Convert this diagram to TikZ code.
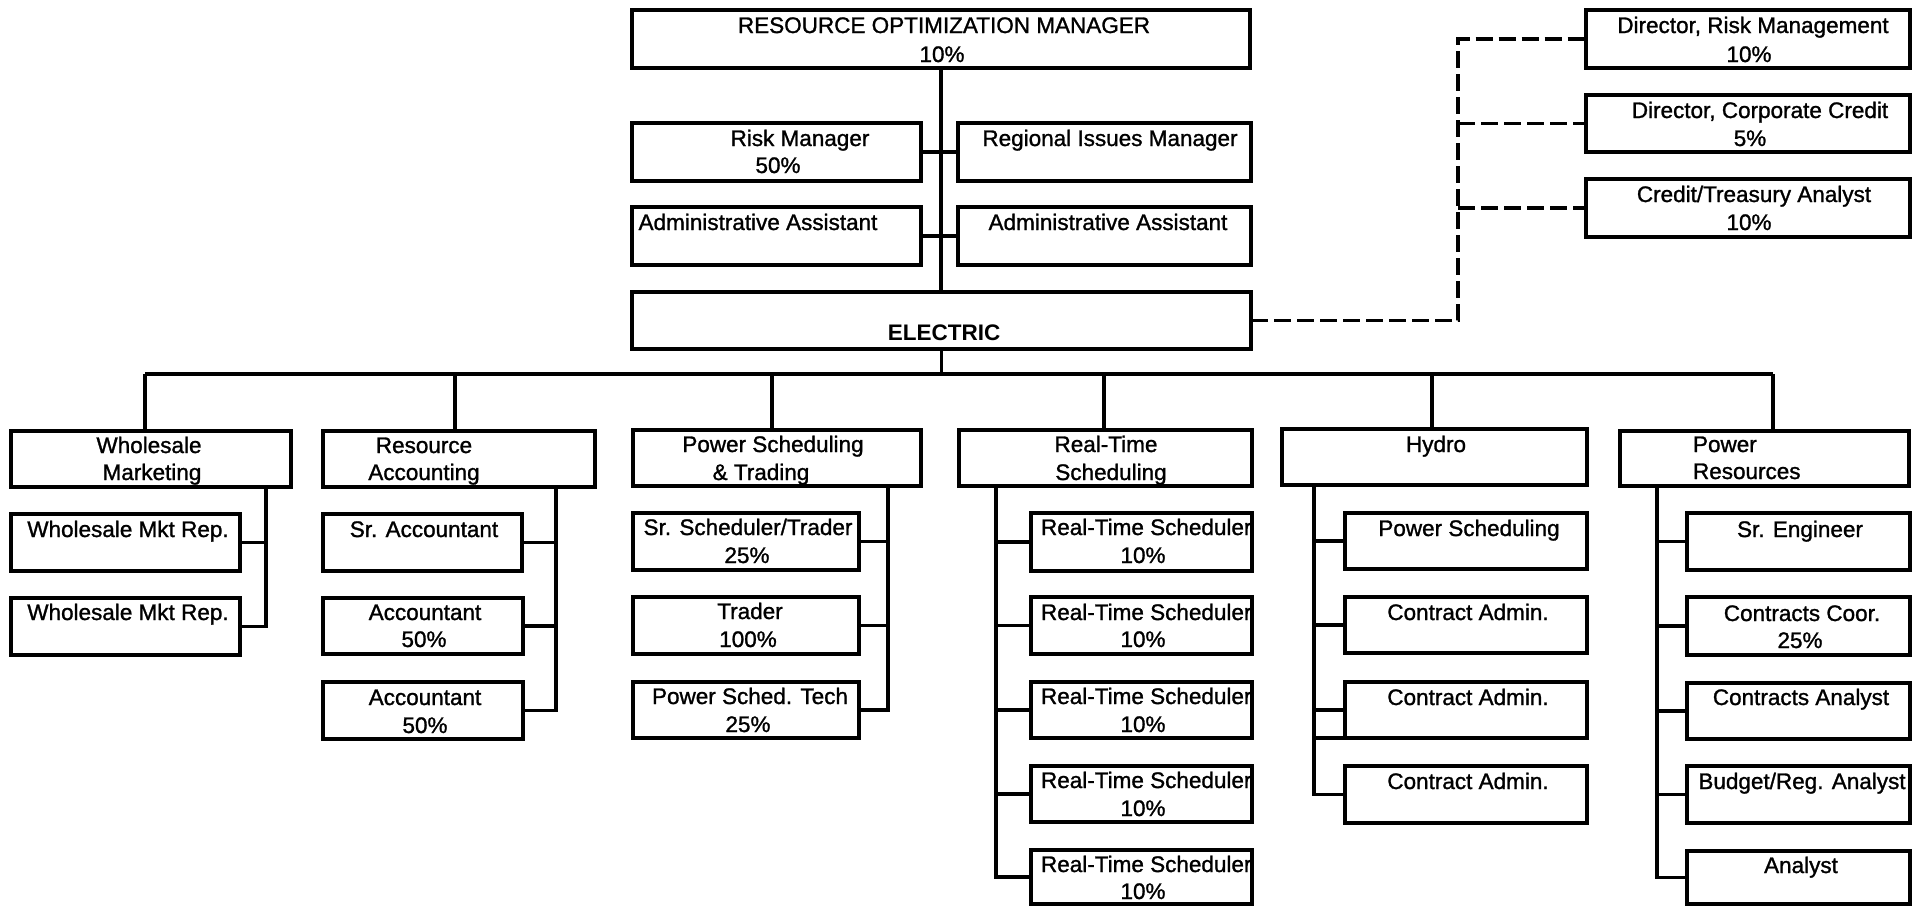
\documentclass[tikz,border=0pt]{standalone}
\usepackage{fontspec}
\setmainfont{Liberation Sans}
\newfontfamily\scanfont{Liberation Sans}[FakeBold=1.2]
\usetikzlibrary{fit}
\begin{document}
\begin{tikzpicture}[x=1pt,y=-1pt,
  box/.style={draw, line width=3.1pt, inner sep=0pt, outer sep=0pt},
  lbl/.style={anchor=base, font=\scanfont\fontsize{22.5}{27}\selectfont, inner sep=0pt, outer sep=0pt},
  lblw/.style={lbl, anchor=base west},
  conn/.style={line width=3.1pt},
  dl/.style={line width=3.1pt, dash pattern=on 17pt off 6pt}]
\fill[white] (0,0) rectangle (1913,906);
\useasboundingbox (0,0) rectangle (1913,906);

% ---------- top boxes ----------
\node[box, fit={(632,10) (1250,68)}] (rom) {};
\node[box, fit={(632,123) (921,181)}] (risk) {};
\node[box, fit={(958,123) (1251,181)}] (reg) {};
\node[box, fit={(632,207) (921,265)}] (adml) {};
\node[box, fit={(958,207) (1251,265)}] (admr) {};
\node[box, fit={(632,292) (1251,349)}] (elec) {};
\node[box, fit={(1586,10) (1910,68)}] (dir1) {};
\node[box, fit={(1586,95) (1910,152)}] (dir2) {};
\node[box, fit={(1586,179) (1910,237)}] (dir3) {};

% ---------- group boxes ----------
\node[box, fit={(11,431) (291,487)}] (wm) {};
\node[box, fit={(323,431) (595,487)}] (ra) {};
\node[box, fit={(633,430) (921,486)}] (pst) {};
\node[box, fit={(959,430) (1252,486)}] (rts) {};
\node[box, fit={(1282,429) (1587,485)}] (hy) {};
\node[box, fit={(1620,431) (1909,486)}] (pr) {};

% ---------- children ----------
\node[box, fit={(11,514) (240,571)}] (wm1) {};
\node[box, fit={(11,598) (240,655)}] (wm2) {};
\node[box, fit={(323,514) (522,571)}] (ra1) {};
\node[box, fit={(323,598) (523,654)}] (ra2) {};
\node[box, fit={(323,682) (523,739)}] (ra3) {};
\node[box, fit={(633,513) (859,570)}] (ps1) {};
\node[box, fit={(633,597) (859,654)}] (ps2) {};
\node[box, fit={(633,682) (859,738)}] (ps3) {};
\node[box, fit={(1031,513) (1252,571)}] (rt1) {};
\node[box, fit={(1031,597) (1252,654)}] (rt2) {};
\node[box, fit={(1031,682) (1252,738)}] (rt3) {};
\node[box, fit={(1031,766) (1252,822)}] (rt4) {};
\node[box, fit={(1031,850) (1252,904)}] (rt5) {};
\node[box, fit={(1345,513) (1587,569)}] (hy1) {};
\node[box, fit={(1345,597) (1587,653)}] (hy2) {};
\node[box, fit={(1345,682) (1587,738)}] (hy3) {};
\node[box, fit={(1345,766) (1587,823)}] (hy4) {};
\node[box, fit={(1687,513) (1910,570)}] (pr1) {};
\node[box, fit={(1687,597) (1910,655)}] (pr2) {};
\node[box, fit={(1687,683) (1910,739)}] (pr3) {};
\node[box, fit={(1687,766) (1910,823)}] (pr4) {};
\node[box, fit={(1687,851) (1910,904)}] (pr5) {};

% ---------- labels ----------
\node[lbl] (rom-a) at (944,33) {RESOURCE OPTIMIZATION MANAGER};
\node[lbl] (rom-b) at (942,62) {10\%};
\node[lbl] (risk-a) at (800,146) {Risk Manager};
\node[lbl] (risk-b) at (778,173) {50\%};
\node[lbl] (reg-a) at (1110,146) {Regional Issues Manager};
\node[lbl] (adml-a) at (758,230) {Administrative Assistant};
\node[lbl] (admr-a) at (1108,230) {Administrative Assistant};
\node[lbl, font=\rmfamily\bfseries\fontsize{22.5}{27}\selectfont] (elec-a) at (944,340) {ELECTRIC};
\node[lbl] (dir1-a) at (1753,33) {Director, Risk Management};
\node[lbl] (dir1-b) at (1749,62) {10\%};
\node[lbl] (dir2-a) at (1760,118) {Director, Corporate Credit};
\node[lbl] (dir2-b) at (1750,146) {5\%};
\node[lbl] (dir3-a) at (1754,202) {Credit/Treasury Analyst};
\node[lbl] (dir3-b) at (1749,230) {10\%};

\node[lbl] (wm-a) at (149,453) {Wholesale};
\node[lbl] (wm-b) at (152,480) {Marketing};
\node[lbl] (ra-a) at (424,453) {Resource};
\node[lbl] (ra-b) at (424,480) {Accounting};
\node[lbl] (pst-a) at (773,452) {Power Scheduling};
\node[lbl] (pst-b) at (761,480) {\& Trading};
\node[lbl] (rts-a) at (1106,452) {Real-Time};
\node[lbl] (rts-b) at (1111,480) {Scheduling};
\node[lbl] (hy-a) at (1436,452) {Hydro};
\node[lblw] (pr-a) at (1693,452) {Power};
\node[lblw] (pr-b) at (1693,479) {Resources};

\node[lbl] (wm1-a) at (128,537) {Wholesale Mkt Rep.};
\node[lbl] (wm2-a) at (128,620) {Wholesale Mkt Rep.};
\node[lbl] (ra1-a) at (424,537) {Sr. Accountant};
\node[lbl] (ra2-a) at (425,620) {Accountant};
\node[lbl] (ra2-b) at (424,647) {50\%};
\node[lbl] (ra3-a) at (425,705) {Accountant};
\node[lbl] (ra3-b) at (425,733) {50\%};
\node[lbl] (ps1-a) at (748,535) {Sr. Scheduler/Trader};
\node[lbl] (ps1-b) at (747,563) {25\%};
\node[lbl] (ps2-a) at (750,619) {Trader};
\node[lbl] (ps2-b) at (748,647) {100\%};
\node[lbl] (ps3-a) at (750,704) {Power Sched. Tech};
\node[lbl] (ps3-b) at (748,732) {25\%};
\node[lblw] (rt1-a) at (1041,535) {Real-Time Scheduler};
\node[lbl] (rt1-b) at (1143,563) {10\%};
\node[lblw] (rt2-a) at (1041,620) {Real-Time Scheduler};
\node[lbl] (rt2-b) at (1143,647) {10\%};
\node[lblw] (rt3-a) at (1041,704) {Real-Time Scheduler};
\node[lbl] (rt3-b) at (1143,732) {10\%};
\node[lblw] (rt4-a) at (1041,788) {Real-Time Scheduler};
\node[lbl] (rt4-b) at (1143,816) {10\%};
\node[lblw] (rt5-a) at (1041,872) {Real-Time Scheduler};
\node[lbl] (rt5-b) at (1143,899) {10\%};
\node[lbl] (hy1-a) at (1469,536) {Power Scheduling};
\node[lbl] (hy2-a) at (1468,620) {Contract Admin.};
\node[lbl] (hy3-a) at (1468,705) {Contract Admin.};
\node[lbl] (hy4-a) at (1468,789) {Contract Admin.};
\node[lbl] (pr1-a) at (1800,537) {Sr. Engineer};
\node[lbl] (pr2-a) at (1802,621) {Contracts Coor.};
\node[lbl] (pr2-b) at (1800,648) {25\%};
\node[lbl] (pr3-a) at (1801,705) {Contracts Analyst};
\node[lbl] (pr4-a) at (1802,789) {Budget/Reg. Analyst};
\node[lbl] (pr5-a) at (1801,873) {Analyst};

% ---------- connectors, top ----------
\draw[conn] (rom.south) -- (rom.south |- elec.north);
\draw[conn] (risk.east) -- (reg.west);
\draw[conn] (adml.east) -- (admr.west);

% dashed links
\coordinate (dj) at (1458,0);
\draw[dl] (elec.east) -- (elec.east -| dj) -- (dj |- dir1.west) -- (dir1.west);
\draw[dl] (dj |- dir2.west) -- (dir2.west);
\draw[dl] (dj |- dir3.west) -- (dir3.west);

% bus
\coordinate (bus-l) at (145,374);
\coordinate (bus-r) at (1773,374);
\coordinate (b-ra) at (455,374);
\coordinate (b-ps) at (772,374);
\coordinate (b-rt) at (1104,374);
\coordinate (b-hy) at (1432,374);
\draw[conn] (elec.south) -- (elec.south |- bus-l);
\draw[conn] (bus-l) -- (bus-r);
\draw[conn] (bus-l) -- (bus-l |- wm.north);
\draw[conn] (b-ra) -- (b-ra |- ra.north);
\draw[conn] (b-ps) -- (b-ps |- pst.north);
\draw[conn] (b-rt) -- (b-rt |- rts.north);
\draw[conn] (b-hy) -- (b-hy |- hy.north);
\draw[conn] (bus-r) -- (bus-r |- pr.north);

% ---------- children connectors ----------
\coordinate (v-wm) at (266,0);
\draw[conn] (v-wm |- wm.south) -- (v-wm |- wm2.east) -- (wm2.east);
\draw[conn] (wm1.east) -- (wm1.east -| v-wm);

\coordinate (v-ra) at (556,0);
\draw[conn] (v-ra |- ra.south) -- (v-ra |- ra3.east) -- (ra3.east);
\draw[conn] (ra1.east) -- (ra1.east -| v-ra);
\draw[conn] (ra2.east) -- (ra2.east -| v-ra);

\coordinate (v-ps) at (888,0);
\draw[conn] (v-ps |- pst.south) -- (v-ps |- ps3.east) -- (ps3.east);
\draw[conn] (ps1.east) -- (ps1.east -| v-ps);
\draw[conn] (ps2.east) -- (ps2.east -| v-ps);

\coordinate (v-rt) at (996,0);
\draw[conn] (v-rt |- rts.south) -- (v-rt |- rt5.west) -- (rt5.west);
\draw[conn] (rt1.west) -- (rt1.west -| v-rt);
\draw[conn] (rt2.west) -- (rt2.west -| v-rt);
\draw[conn] (rt3.west) -- (rt3.west -| v-rt);
\draw[conn] (rt4.west) -- (rt4.west -| v-rt);

\coordinate (v-hy) at (1314,0);
\draw[conn] (v-hy |- hy.south) -- (v-hy |- hy4.west) -- (hy4.west);
\draw[conn] (hy1.west) -- (hy1.west -| v-hy);
\draw[conn] (hy2.west) -- (hy2.west -| v-hy);
\draw[conn] (hy3.west) -- (hy3.west -| v-hy);
\draw[conn] (hy3.south west) -- (hy3.south west -| v-hy);

\coordinate (v-pr) at (1657,0);
\draw[conn] (v-pr |- pr.south) -- (v-pr |- pr5.west) -- (pr5.west);
\draw[conn] (pr1.west) -- (pr1.west -| v-pr);
\draw[conn] (pr2.west) -- (pr2.west -| v-pr);
\draw[conn] (pr3.west) -- (pr3.west -| v-pr);
\draw[conn] (pr4.west) -- (pr4.west -| v-pr);
\end{tikzpicture}
\end{document}
